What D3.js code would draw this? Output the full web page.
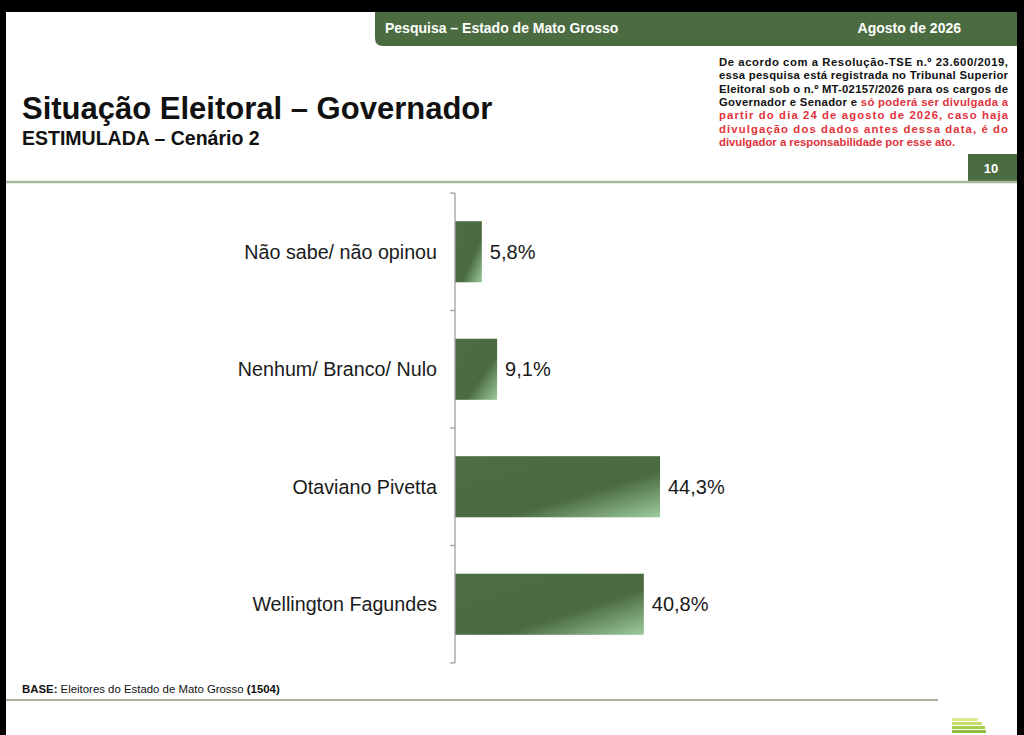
<!DOCTYPE html>
<html>
<head>
<meta charset="utf-8">
<script src="https://cdn.jsdelivr.net/npm/d3@7"></script>
<style>
  body { margin: 0; background: #000; }
  svg { display: block; }
</style>
</head>
<body>
<div id="chart"></div>
<script>
var categories = ["Não sabe/ não opinou", "Nenhum/ Branco/ Nulo", "Otaviano Pivetta", "Wellington Fagundes"];
var values = [5.8, 9.1, 44.3, 40.8];
var valueLabels = ["5,8%", "9,1%", "44,3%", "40,8%"];

var disclaimer = [
    [["De acordo com a Resolução-TSE n.º 23.600/2019,", "#111"]],
    [["essa pesquisa está registrada no Tribunal Superior", "#111"]],
    [["Eleitoral sob o n.º MT-02157/2026 para os cargos de", "#111"]],
    [["Governador e Senador e ", "#111"], ["só poderá ser divulgada a", "#e2323c"]],
    [["partir do dia 24 de agosto de 2026, caso haja", "#e2323c"]],
    [["divulgação dos dados antes dessa data, é do", "#e2323c"]],
    [["divulgador a responsabilidade por esse ato.", "#e2323c"]]
];

var W = 1024, H = 735;
var green = "#4b6b40";
var sans = "'Liberation Sans', Arial, sans-serif";

const svg = d3.select("#chart").append("svg").attr("width", W).attr("height", H);

// page
svg.append("rect").attr("width", W).attr("height", H).attr("fill", "#000");
svg.append("rect").attr("x", 6).attr("y", 12).attr("width", 1011).attr("height", H - 12).attr("fill", "#fff");

var defs = svg.append("defs");
var grad = defs.append("linearGradient").attr("id", "barGrad")
    .attr("x1", 0).attr("y1", 0).attr("x2", 1).attr("y2", 1);
grad.append("stop").attr("offset", "0").attr("stop-color", "#4d6e43");
grad.append("stop").attr("offset", "0.62").attr("stop-color", "#4a6a3f");
grad.append("stop").attr("offset", "1").attr("stop-color", "#9ccb9c");

// header band
svg.append("path")
    .attr("d", "M375,12 H1017 V46 H383 Q375,46 375,38 Z")
    .attr("fill", green);
svg.append("text").attr("x", 385).attr("y", 33)
    .style("font-family", sans).style("font-weight", "bold").style("font-size", "14px")
    .attr("fill", "#fff").text("Pesquisa – Estado de Mato Grosso");
svg.append("text").attr("x", 961).attr("y", 33).attr("text-anchor", "end")
    .style("font-family", sans).style("font-weight", "bold").style("font-size", "14px")
    .attr("fill", "#fff").text("Agosto de 2026");

// title
svg.append("text").attr("x", 22).attr("y", 119)
    .style("font-family", sans).style("font-weight", "bold").style("font-size", "31px")
    .attr("fill", "#111").text("Situação Eleitoral – Governador");
svg.append("text").attr("x", 22).attr("y", 145)
    .style("font-family", sans).style("font-weight", "bold").style("font-size", "19.5px")
    .attr("fill", "#111").text("ESTIMULADA – Cenário 2");

// disclaimer block (justified)
disclaimer.forEach((line, i) => {
    var t = svg.append("text").attr("x", 719).attr("y", 66 + i * 13.35)
        .style("font-family", sans).style("font-weight", "bold").style("font-size", "11.3px");
    if (i < disclaimer.length - 1) {
        t.attr("textLength", 289).attr("lengthAdjust", "spacing");
    }
    line.forEach((seg) => {
        t.append("tspan").attr("fill", seg[1]).text(seg[0]);
    });
});

// page number box
svg.append("rect").attr("x", 968).attr("y", 154).attr("width", 49).attr("height", 27).attr("fill", green);
svg.append("text").attr("x", 991).attr("y", 173).attr("text-anchor", "middle")
    .style("font-family", sans).style("font-weight", "bold").style("font-size", "13px")
    .attr("fill", "#fff").text("10");
svg.append("line").attr("x1", 6).attr("x2", 1017).attr("y1", 182).attr("y2", 182)
    .attr("stroke", "#aab89c").attr("stroke-width", 2.5);

// chart
var x0 = 455;
var x = d3.scaleLinear().domain([0, 44.3]).range([x0, 660]);
var y = d3.scaleBand().domain(categories).range([193, 663]).paddingInner(0.48).paddingOuter(0.24);

svg.selectAll("rect.bar")
    .data(values)
    .enter()
    .append("rect")
    .attr("class", "bar")
    .attr("x", x(0))
    .attr("y", (d, i) => y(categories[i]))
    .attr("width", (d) => x(d) - x(0))
    .attr("height", y.bandwidth())
    .attr("fill", "url(#barGrad)");

// axis with ticks on category boundaries
var bounds = d3.range(categories.length + 1).map((i) => 193 + i * (470 / categories.length));
svg.append("line").attr("x1", x0).attr("x2", x0).attr("y1", 193).attr("y2", 663)
    .attr("stroke", "#a0a0a0").attr("stroke-width", 1.3);
svg.selectAll("line.tick")
    .data(bounds)
    .enter()
    .append("line")
    .attr("class", "tick")
    .attr("x1", x0 - 5).attr("x2", x0)
    .attr("y1", (d) => d).attr("y2", (d) => d)
    .attr("stroke", "#a0a0a0").attr("stroke-width", 1.3);

svg.selectAll("text.cat")
    .data(categories)
    .enter()
    .append("text")
    .attr("class", "cat")
    .attr("x", 437)
    .attr("y", (d) => y(d) + y.bandwidth() / 2 + 7)
    .attr("text-anchor", "end")
    .style("font-family", sans).style("font-size", "19.7px")
    .attr("fill", "#1a1a1a")
    .text((d) => d);

svg.selectAll("text.val")
    .data(values)
    .enter()
    .append("text")
    .attr("class", "val")
    .attr("x", (d) => x(d) + 8)
    .attr("y", (d, i) => y(categories[i]) + y.bandwidth() / 2 + 7)
    .style("font-family", sans).style("font-size", "20px")
    .attr("fill", "#1a1a1a")
    .text((d, i) => valueLabels[i]);

// base footnote
var base = svg.append("text").attr("x", 22).attr("y", 693)
    .style("font-family", sans).style("font-size", "11.4px").attr("fill", "#111");
base.append("tspan").style("font-weight", "bold").text("BASE:");
base.append("tspan").text(" Eleitores do Estado de Mato Grosso ");
base.append("tspan").style("font-weight", "bold").text("(1504)");
svg.append("line").attr("x1", 6).attr("x2", 938).attr("y1", 700).attr("y2", 700)
    .attr("stroke", "#8d9a80").attr("stroke-width", 1.5);

// logo stripes
var stripes = [[952, 718, 26, "#dbe88f"], [952, 722, 30, "#c4dc6a"], [952, 726, 33, "#a8cd4c"], [952, 730, 34, "#8fbd3a"]];
svg.selectAll("rect.logo")
    .data(stripes)
    .enter()
    .append("rect")
    .attr("class", "logo")
    .attr("x", (d) => d[0]).attr("y", (d) => d[1])
    .attr("width", (d) => d[2]).attr("height", 3)
    .attr("fill", (d) => d[3]);
</script>
</body>
</html>
